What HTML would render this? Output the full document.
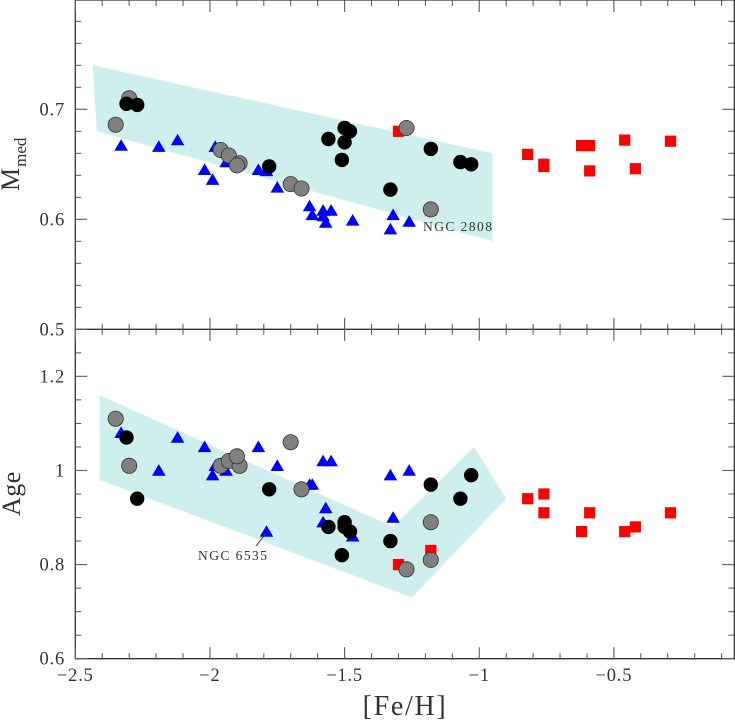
<!DOCTYPE html>
<html lang="en">
<head>
<meta charset="utf-8">
<title>Mmed and Age vs [Fe/H]</title>
<style>
html,body{margin:0;padding:0;background:#fff;width:735px;height:720px;overflow:hidden}
svg{display:block}
text{font-family:"Liberation Serif",serif;fill:#333}
</style>
</head>
<body>
<svg id="chart" xmlns="http://www.w3.org/2000/svg" width="735" height="720" viewBox="0 0 735 720">
  <g id="bands"></g>
  <g id="marks"></g>
  <g id="axes"></g>
  <text transform="translate(19,191) rotate(-90)" font-size="26">M<tspan font-size="17" dy="7" dx="1">med</tspan></text>
  <text transform="translate(20,516) rotate(-90)" font-size="26" letter-spacing="0.5">Age</text>
  <text x="405" y="715" font-size="28" text-anchor="middle" letter-spacing="1.7">[Fe/H]</text>
  <text x="423" y="231" font-size="13.5" fill="#222" textLength="69">NGC 2808</text>
  <text x="198" y="560" font-size="13.5" fill="#222" textLength="69">NGC 6535</text>
  <line x1="256" y1="546" x2="267" y2="532" stroke="#333" stroke-width="1"></line>
</svg>
<script>
// Shared x values and per-panel series
const topBand = [[-2.435,0.74],[-0.95,0.66],[-0.95,0.58],[-2.42,0.68]];
const bottomBand = [[-2.41,1.16],[-1.32,0.88],[-1.02,1.05],[-0.9,0.94],[-1.25,0.73],[-2.41,0.98]];

const redFeH = [-1.30,-1.18,-0.82,-0.76,-0.76,-0.62,-0.59,-0.59,-0.46,-0.42,-0.29];
const redMmed = [0.68,0.608,0.659,0.650,0.648,0.667,0.667,0.644,0.672,0.646,0.671];
const redAgeFeH = [-1.30,-1.18,-0.82,-0.76,-0.76,-0.62,-0.59,-0.46,-0.42,-0.29];
const redAge = [0.80,0.83,0.94,0.95,0.91,0.87,0.91,0.87,0.88,0.91];

const blueFeH = [-2.33,-2.19,-2.12,-2.02,-1.99,-1.98,-1.94,-1.82,-1.79,-1.75,-1.63,-1.62,-1.58,-1.58,-1.57,-1.55,-1.47,-1.32,-1.33,-1.26];
const blueMmed = [0.667,0.666,0.672,0.645,0.636,0.666,0.652,0.645,0.644,0.629,0.612,0.604,0.608,0.603,0.597,0.608,0.599,0.604,0.591,0.598];
const blueAge = [1.08,1.00,1.07,1.05,0.99,1.01,1.00,1.05,0.87,1.01,0.97,0.97,0.89,1.02,0.92,1.02,0.86,0.90,0.99,1.00];

const grayFeH = [-2.35,-2.30,-1.96,-1.93,-1.89,-1.90,-1.70,-1.66,-1.27,-1.18];
const grayMmed = [0.686,0.71,0.663,0.658,0.651,0.649,0.632,0.628,0.683,0.609];
const grayAge = [1.11,1.01,1.01,1.02,1.01,1.03,1.06,0.96,0.79,0.89];
const grayExtraFeH = [-1.18];
const grayExtraAge = [0.81];

const blackFeH = [-2.31,-2.27,-1.78,-1.56,-1.50,-1.48,-1.50,-1.51,-1.33,-1.18,-1.07,-1.03];
const blackMmed = [0.705,0.704,0.648,0.673,0.683,0.68,0.670,0.654,0.627,0.664,0.652,0.650];
const blackAge = [1.07,0.94,0.96,0.88,0.89,0.87,0.88,0.82,0.85,0.97,0.94,0.99];

const xMajorTicks = [-2.5,-2,-1.5,-1,-0.5];
const xTickLabels = ['\u22122.5','\u22122','\u22121.5','\u22121','\u22120.5'];
const topYTicks = [0.5,0.6,0.7];
const topYLabels = ['0.5','0.6','0.7'];
const bottomYTicks = [0.6,0.8,1.0,1.2];
const bottomYLabels = ['0.6','0.8','1','1.2'];

const NS = 'http://www.w3.org/2000/svg';
const xAxis = v => 75.3 + (v + 2.5) * 269.3;
const yTop = v => 329.3 - (v - 0.5) * 1100;
const yBottom = v => 658.7 - (v - 0.6) * 470.6;

const bands = document.getElementById('bands');
const marks = document.getElementById('marks');
const axes = document.getElementById('axes');

function make(tag, attrs, parent) {
  const el = document.createElementNS(NS, tag);
  for (const k in attrs) el.setAttribute(k, attrs[k]);
  parent.appendChild(el);
  return el;
}

function drawBand(points, yFn, name) {
  const el = make('polygon', {points: points.map(p => xAxis(p[0]).toFixed(1) + ',' + yFn(p[1]).toFixed(1)).join(' '), fill: '#cfeeee'}, bands);
  
  
}

function drawSquares(xs, ys, yFn, name) {
  xs.forEach((x, i) => {
    const el = make('rect', {x: (xAxis(x) - 5.6).toFixed(1), y: (yFn(ys[i]) - 5.6).toFixed(1), width: 11.2, height: 11.2, fill: '#ff0000'}, marks);
    
    
  });
}

function drawTriangles(xs, ys, yFn, name) {
  xs.forEach((x, i) => {
    const cx = xAxis(x), cy = yFn(ys[i]);
    const pts = [[cx, cy - 6.4], [cx + 6.8, cy + 5.2], [cx - 6.8, cy + 5.2]].map(p => p[0].toFixed(1) + ',' + p[1].toFixed(1)).join(' ');
    const el = make('polygon', {points: pts, fill: '#0000ff'}, marks);
    
    
  });
}

function drawCircles(xs, ys, yFn, fill, stroke, r, name) {
  xs.forEach((x, i) => {
    const el = make('circle', {cx: xAxis(x).toFixed(1), cy: yFn(ys[i]).toFixed(1), r: r, fill: fill, stroke: stroke, 'stroke-width': 0.8}, marks);
    
    
  });
}

function tick(x1, y1, x2, y2, major) {
  const el = make('line', {x1: x1, y1: y1, x2: x2, y2: y2, stroke: major ? '#666' : '#555', 'stroke-width': major ? 1.2 : 1}, axes);
  
  
}

function drawXTicks(yPos, dir) {
  for (let k = -25; k <= -1; k++) {
    const v = k / 10;
    const major = k % 5 === 0;
    const px = xAxis(v);
    tick(px, yPos, px, yPos + dir * (major ? 11.5 : 5.5), major);
  }
}

function drawYTicks(yFn, lo, hi, step, majors, yTopPx, yBottomPx) {
  const n = Math.round((hi - lo) / step);
  for (let k = 0; k <= n; k++) {
    const v = lo + k * step;
    const py = yFn(v);
    if (py < yTopPx - 0.5 || py > yBottomPx + 0.5) continue;
    const major = majors.some(m => Math.abs(m - v) < 1e-6);
    const len = major ? 12 : 6;
    tick(75.3, py, 75.3 + len, py, major);
    tick(734.3, py, 734.3 - len, py, major);
  }
}

function drawLabels(vals, labels, posFn, attrsFn, name) {
  vals.forEach((v, i) => {
    const el = make('text', attrsFn(posFn(v)), axes);
    el.textContent = labels[i];
    
    
  });
}

drawBand(topBand, yTop, 'mmed-band');
drawBand(bottomBand, yBottom, 'age-band');

drawSquares(redFeH, redMmed, yTop, 'mmed-red-square');
drawSquares(redAgeFeH, redAge, yBottom, 'age-red-square');
drawTriangles(blueFeH, blueMmed, yTop, 'mmed-blue-triangle');
drawTriangles(blueFeH, blueAge, yBottom, 'age-blue-triangle');
drawCircles(grayFeH, grayMmed, yTop, '#808080', '#333', 7.6, 'mmed-gray-circle');
drawCircles(grayFeH, grayAge, yBottom, '#808080', '#333', 7.6, 'age-gray-circle');
drawCircles(grayExtraFeH, grayExtraAge, yBottom, '#808080', '#333', 7.6, 'age-gray-circle');
drawCircles(blackFeH, blackMmed, yTop, '#000', '#000', 6.8, 'mmed-black-circle');
drawCircles(blackFeH, blackAge, yBottom, '#000', '#000', 6.8, 'age-black-circle');

const frame = make('path', {d: 'M75.3 0V658.7H734.3V0H75.3 M75.3 329.3H734.3', fill: 'none', stroke: '#333', 'stroke-width': 1.3}, axes);



drawXTicks(0.5, 1);
drawXTicks(329.3, -1);
drawXTicks(329.3, 1);
drawXTicks(658.7, -1);
drawYTicks(yTop, 0.5, 0.8, 0.02, topYTicks, 0, 329.3);
drawYTicks(yBottom, 0.6, 1.3, 0.05, bottomYTicks, 329.3, 658.7);

drawLabels(xMajorTicks, xTickLabels, xAxis, px => ({x: px, y: 681, 'font-size': 18.5, 'text-anchor': 'middle', 'letter-spacing': 0.8}), 'x-tick-label');
drawLabels(topYTicks, topYLabels, yTop, py => ({x: 65, y: py + 6, 'font-size': 18.5, 'text-anchor': 'end', 'letter-spacing': 0.8}), 'mmed-y-tick-label');
drawLabels(bottomYTicks, bottomYLabels, yBottom, py => ({x: 65, y: py + 6, 'font-size': 18.5, 'text-anchor': 'end', 'letter-spacing': 0.8}), 'age-y-tick-label');
</script>
</body>
</html>
